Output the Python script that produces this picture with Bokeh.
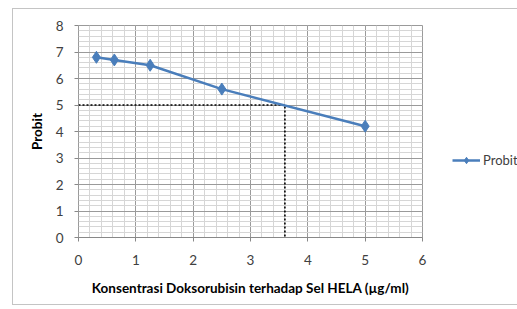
from bokeh.plotting import figure
from bokeh.layouts import row
from bokeh.embed import file_html
from bokeh.resources import INLINE
from bokeh.models import Range1d, FixedTicker, Legend, LegendItem, ColumnDataSource

# Data
konsentrasi = [0.3125, 0.625, 1.25, 2.5, 5.0]
probit = [6.8, 6.7, 6.5, 5.6, 4.2]
ic50_x = [0, 3.6, 3.6]
ic50_y = [5, 5, 0]
x_ticks = [0, 1, 2, 3, 4, 5, 6]
y_ticks = [0, 1, 2, 3, 4, 5, 6, 7, 8]
series_name = "Probit"

FONT = "Lato"
BLUE = "#4a7ebb"

p = figure(width=434, height=295, output_backend="svg", toolbar_location=None,
           x_range=Range1d(0, 6), y_range=Range1d(0, 8),
           min_border_left=65, min_border_right=25, min_border_top=16, min_border_bottom=67)

p.xaxis.ticker = FixedTicker(ticks=x_ticks, minor_ticks=[i * 0.2 for i in range(31)])
p.yaxis.ticker = FixedTicker(ticks=y_ticks, minor_ticks=[i * 0.2 for i in range(41)])

for ax in (p.xaxis[0], p.yaxis[0]):
    ax.major_label_text_font = FONT
    ax.major_label_text_font_size = "13.5px"
    ax.major_label_text_color = "#404040"
    ax.axis_label_text_font = FONT
    ax.axis_label_text_font_size = "13.5px"
    ax.axis_label_text_font_style = "bold"
    ax.axis_label_text_color = "#000000"
    ax.axis_line_color = "#888888"
    ax.major_tick_line_color = "#888888"
    ax.major_tick_out = 4
    ax.major_tick_in = 0
    ax.minor_tick_line_color = None

p.yaxis.axis_line_color = None
p.xaxis.axis_label = "Konsentrasi Doksorubisin terhadap Sel HELA (µg/ml)"
p.yaxis.axis_label = "Probit"
p.xaxis.major_label_standoff = 13
p.yaxis.major_label_standoff = 11
p.xaxis.axis_label_standoff = 12
p.yaxis.axis_label_standoff = 8

p.grid.grid_line_color = "#9a9a9a"
p.grid.grid_line_width = 1
p.grid.minor_grid_line_color = "#d6d6d6"
p.grid.minor_grid_line_width = 1
p.outline_line_color = "#9a9a9a"

# IC50 guide lines
p.line(ic50_x, ic50_y, line_color="#000000", line_width=1.6, line_dash="2 2")

src = ColumnDataSource(dict(x=konsentrasi, y=probit))
p.line("x", "y", source=src, line_color=BLUE, line_width=2.5)
p.scatter("x", "y", source=src, marker="diamond", size=12,
          fill_color=BLUE, line_color=BLUE)

# Legend panel (separate small figure so the legend sits outside the plot area)
lg = figure(width=70, height=295, output_backend="svg", toolbar_location=None,
            x_axis_type=None, y_axis_type=None, x_range=Range1d(0, 1), y_range=Range1d(0, 1),
            min_border_left=0, min_border_right=0, min_border_top=16, min_border_bottom=67)
lg.outline_line_color = None
lg.grid.visible = False
# series drawn outside this panel's ranges: only its legend sample is visible
l1 = lg.line(konsentrasi, probit, line_color=BLUE, line_width=2.5)
l2 = lg.scatter(konsentrasi, probit, marker="diamond", size=9, fill_color=BLUE, line_color=BLUE)
legend = Legend(items=[LegendItem(label=series_name, renderers=[l1, l2])],
                location=(5, 69), padding=0, margin=0, border_line_color=None,
                background_fill_alpha=0, glyph_width=28, glyph_height=16,
                label_standoff=3, label_text_font=FONT, label_text_font_size="13px",
                label_text_color="#404040")
lg.add_layout(legend, "center")

layout = row(p, lg)
layout.styles = {"border": "1px solid #c4c4c4", "margin-left": "12px", "margin-top": "8px"}

open("out.html", "w").write(file_html(layout, INLINE))
